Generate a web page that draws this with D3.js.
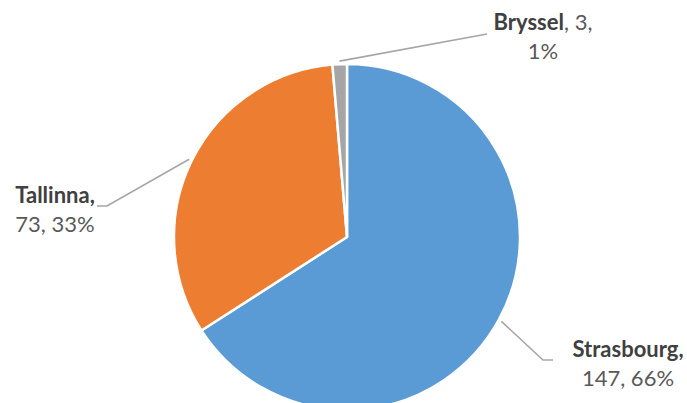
<!DOCTYPE html>
<html>
<head>
<meta charset="utf-8">
<script src="https://cdn.jsdelivr.net/npm/d3@7"></script>
<style>
  html, body { margin: 0; padding: 0; background: #fff; overflow: hidden; }
  svg { display: block; }
  text { font-family: "Lato", "Open Sans", sans-serif; }
</style>
</head>
<body>
<svg id="chart" width="687" height="403"></svg>
<script>
// Session counts per meeting place
const categories = ["Strasbourg", "Tallinna", "Bryssel"];
const values = [147, 73, 3];
const colors = ["#5B9BD5", "#ED7D31", "#A5A5A5"];

// Label anchor (centre of the text block) and leader elbow, relative to pie centre
const labelLayout = [
  { tx: 281, ty: 126, ex: 196, ey: 123, hx: 206 },
  { tx: -292, ty: -28, ex: -240, ey: -31, hx: -250 },
  { tx: 196, ty: -201, ex: 140, ey: -203, hx: 140 }
];

const width = 687, height = 403;
const cx = 347, cy = 237, radius = 173;

const svg = d3.select("#chart");
const g = svg.append("g").attr("transform", `translate(${cx},${cy})`);

const total = d3.sum(values);
const data = categories.map((c, i) => ({ name: c, value: values[i], color: colors[i], layout: labelLayout[i] }));

const pie = d3.pie().value(d => d.value).sort(null);
const arcs = pie(data);
const arc = d3.arc().innerRadius(0).outerRadius(radius);
const edgeArc = d3.arc().innerRadius(radius + 3).outerRadius(radius + 3);

g.selectAll("path.slice")
  .data(arcs)
  .join("path")
  .attr("class", "slice")
  .attr("d", arc)
  .attr("fill", d => d.data.color)
  .attr("stroke", "#fff")
  .attr("stroke-width", 2.5)
  .attr("stroke-linejoin", "round");

// Leader lines from slice edge to label
g.selectAll("polyline.leader")
  .data(arcs)
  .join("polyline")
  .attr("class", "leader")
  .attr("fill", "none")
  .attr("stroke", "#A6A6A6")
  .attr("stroke-width", 1.6)
  .attr("points", d => {
    const [sx, sy] = edgeArc.centroid(d);
    const L = d.data.layout;
    return [[sx, sy], [L.ex, L.ey], [L.hx, L.ey]].map(p => p.join(",")).join(" ");
  });

// Data labels: bold category name, then value and share
const fmtPct = v => Math.round(v / total * 100) + "%";
const labels = g.selectAll("g.label")
  .data(arcs)
  .join("g")
  .attr("class", "label")
  .attr("transform", d => `translate(${d.data.layout.tx},${d.data.layout.ty})`);

labels.each(function(d) {
  const t = d3.select(this).append("text")
    .attr("text-anchor", "middle")
    .attr("fill", "#404040")
    .attr("font-size", 22);
  if (d.data.name === "Bryssel") {
    const l1 = t.append("tspan").attr("x", 0).attr("y", -6);
    l1.append("tspan").attr("font-weight", "bold").text(d.data.name);
    l1.append("tspan").attr("fill", "#595959").text(", " + d.data.value + ",");
    t.append("tspan").attr("x", 0).attr("y", 23).attr("fill", "#595959").text(fmtPct(d.data.value));
  } else {
    t.append("tspan").attr("x", 0).attr("y", -6).attr("font-weight", "bold").text(d.data.name + ",");
    t.append("tspan").attr("x", 0).attr("y", 23).attr("fill", "#595959")
      .text(d.data.value + ", " + fmtPct(d.data.value));
  }
});
</script>
</body>
</html>
